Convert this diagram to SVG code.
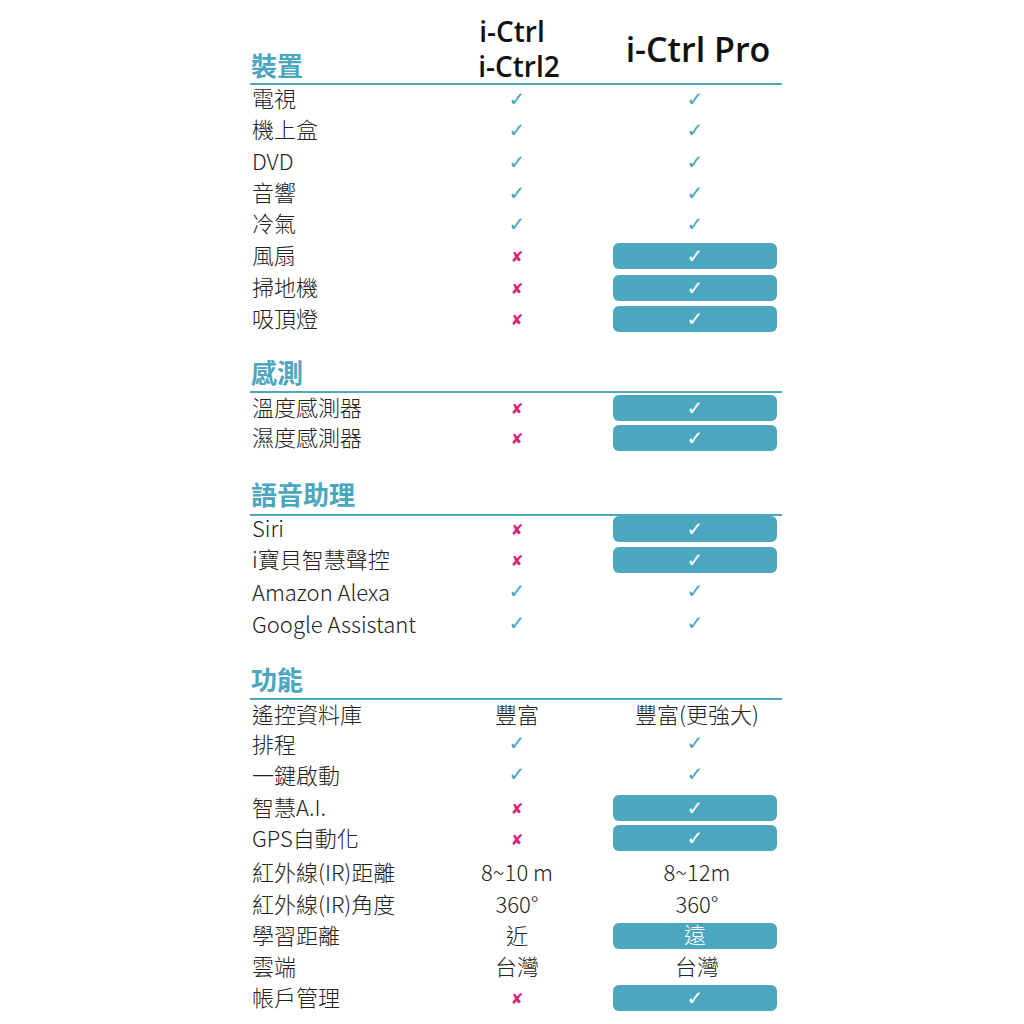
<svg xmlns="http://www.w3.org/2000/svg" width="1024" height="1024" viewBox="0 0 1024 1024">
<style>
.l{font-family:"Noto Sans CJK TC","Noto Sans",sans-serif;font-size:22px;font-weight:300;fill:#222}
.c{font-family:"Noto Sans CJK TC","Noto Sans",sans-serif;font-size:22px;font-weight:300;fill:#222;text-anchor:middle}
.h{font-family:"Noto Sans CJK TC",sans-serif;font-size:26px;font-weight:700;fill:#4ba6c0}
.t{font-family:"Open Sans","Noto Sans",sans-serif;font-size:28px;font-weight:600;fill:#111;text-anchor:middle}
.k{font-family:"DejaVu Sans",sans-serif;font-size:20px;fill:#4ba6c0;text-anchor:middle}
.w{font-family:"DejaVu Sans",sans-serif;font-size:20px;fill:#fff;text-anchor:middle}
.x{font-family:"DejaVu Sans",sans-serif;font-size:15px;font-weight:bold;fill:#e0207f;text-anchor:middle}
.p{fill:#4ba6c0}
.r{stroke:#4ba6c0;stroke-width:2}
</style>
<text class="t" x="512" y="42">i-Ctrl</text>
<text class="t" x="519" y="77">i-Ctrl2</text>
<text class="t" x="698" y="62" style="font-size:34px">i-Ctrl Pro</text>
<g id="sec1">
<text class="h" x="251" y="76">裝置</text>
<line class="r" x1="250" y1="84" x2="782" y2="84"/>
<text class="l" x="252" y="107">電視</text><text class="k" x="517" y="106">✓</text><text class="k" x="695" y="106">✓</text>
<text class="l" x="252" y="138">機上盒</text><text class="k" x="517" y="137">✓</text><text class="k" x="695" y="137">✓</text>
<text class="l" x="252" y="170">DVD</text><text class="k" x="517" y="169">✓</text><text class="k" x="695" y="169">✓</text>
<text class="l" x="252" y="201">音響</text><text class="k" x="517" y="200">✓</text><text class="k" x="695" y="200">✓</text>
<text class="l" x="252" y="232">冷氣</text><text class="k" x="517" y="231">✓</text><text class="k" x="695" y="231">✓</text>
<text class="l" x="252" y="264">風扇</text><text class="x" x="517" y="262">✘</text><rect class="p" x="613" y="243" width="164" height="26" rx="6"/><text class="w" x="695" y="263">✓</text>
<text class="l" x="252" y="296">掃地機</text><text class="x" x="517" y="294">✘</text><rect class="p" x="613" y="275" width="164" height="26" rx="6"/><text class="w" x="695" y="295">✓</text>
<text class="l" x="252" y="327">吸頂燈</text><text class="x" x="517" y="325">✘</text><rect class="p" x="613" y="306" width="164" height="26" rx="6"/><text class="w" x="695" y="326">✓</text>
</g>
<g id="sec2">
<text class="h" x="251" y="383">感測</text>
<line class="r" x1="250" y1="392" x2="782" y2="392"/>
<text class="l" x="252" y="416">溫度感測器</text><text class="x" x="517" y="414">✘</text><rect class="p" x="613" y="395" width="164" height="26" rx="6"/><text class="w" x="695" y="415">✓</text>
<text class="l" x="252" y="446">濕度感測器</text><text class="x" x="517" y="444">✘</text><rect class="p" x="613" y="425" width="164" height="26" rx="6"/><text class="w" x="695" y="445">✓</text>
</g>
<g id="sec3">
<text class="h" x="251" y="505">語音助理</text>
<line class="r" x1="250" y1="515" x2="782" y2="515"/>
<text class="l" x="252" y="537">Siri</text><text class="x" x="517" y="535">✘</text><rect class="p" x="613" y="516" width="164" height="26" rx="6"/><text class="w" x="695" y="536">✓</text>
<text class="l" x="252" y="568">i寶貝智慧聲控</text><text class="x" x="517" y="566">✘</text><rect class="p" x="613" y="547" width="164" height="26" rx="6"/><text class="w" x="695" y="567">✓</text>
<text class="l" x="252" y="601">Amazon Alexa</text><text class="k" x="517" y="598">✓</text><text class="k" x="695" y="598">✓</text>
<text class="l" x="252" y="633">Google Assistant</text><text class="k" x="517" y="630">✓</text><text class="k" x="695" y="630">✓</text>
</g>
<g id="sec4">
<text class="h" x="251" y="690">功能</text>
<line class="r" x1="250" y1="699" x2="782" y2="699"/>
<text class="l" x="252" y="723">遙控資料庫</text><text class="c" x="517" y="723">豐富</text><text class="c" x="697" y="723">豐富(更強大)</text>
<text class="l" x="252" y="753">排程</text><text class="k" x="517" y="750">✓</text><text class="k" x="695" y="750">✓</text>
<text class="l" x="252" y="784">一鍵啟動</text><text class="k" x="517" y="781">✓</text><text class="k" x="695" y="781">✓</text>
<text class="l" x="252" y="816">智慧A.I.</text><text class="x" x="517" y="814">✘</text><rect class="p" x="613" y="795" width="164" height="26" rx="6"/><text class="w" x="695" y="815">✓</text>
<text class="l" x="252" y="847">GPS自動化</text><text class="x" x="517" y="845">✘</text><rect class="p" x="613" y="825" width="164" height="26" rx="6"/><text class="w" x="695" y="845">✓</text>
<text class="l" x="252" y="881">紅外線(IR)距離</text><text class="c" x="517" y="881">8~10 m</text><text class="c" x="697" y="881">8~12m</text>
<text class="l" x="252" y="913">紅外線(IR)角度</text><text class="c" x="517" y="913">360°</text><text class="c" x="697" y="913">360°</text>
<text class="l" x="252" y="944">學習距離</text><text class="c" x="517" y="944">近</text><rect class="p" x="613" y="923" width="164" height="26" rx="6"/><text class="c" x="695" y="943" style="fill:#fff">遠</text>
<text class="l" x="252" y="975">雲端</text><text class="c" x="517" y="975">台灣</text><text class="c" x="697" y="975">台灣</text>
<text class="l" x="252" y="1006">帳戶管理</text><text class="x" x="517" y="1004">✘</text><rect class="p" x="613" y="985" width="164" height="26" rx="6"/><text class="w" x="695" y="1005">✓</text>
</g>
</svg>
